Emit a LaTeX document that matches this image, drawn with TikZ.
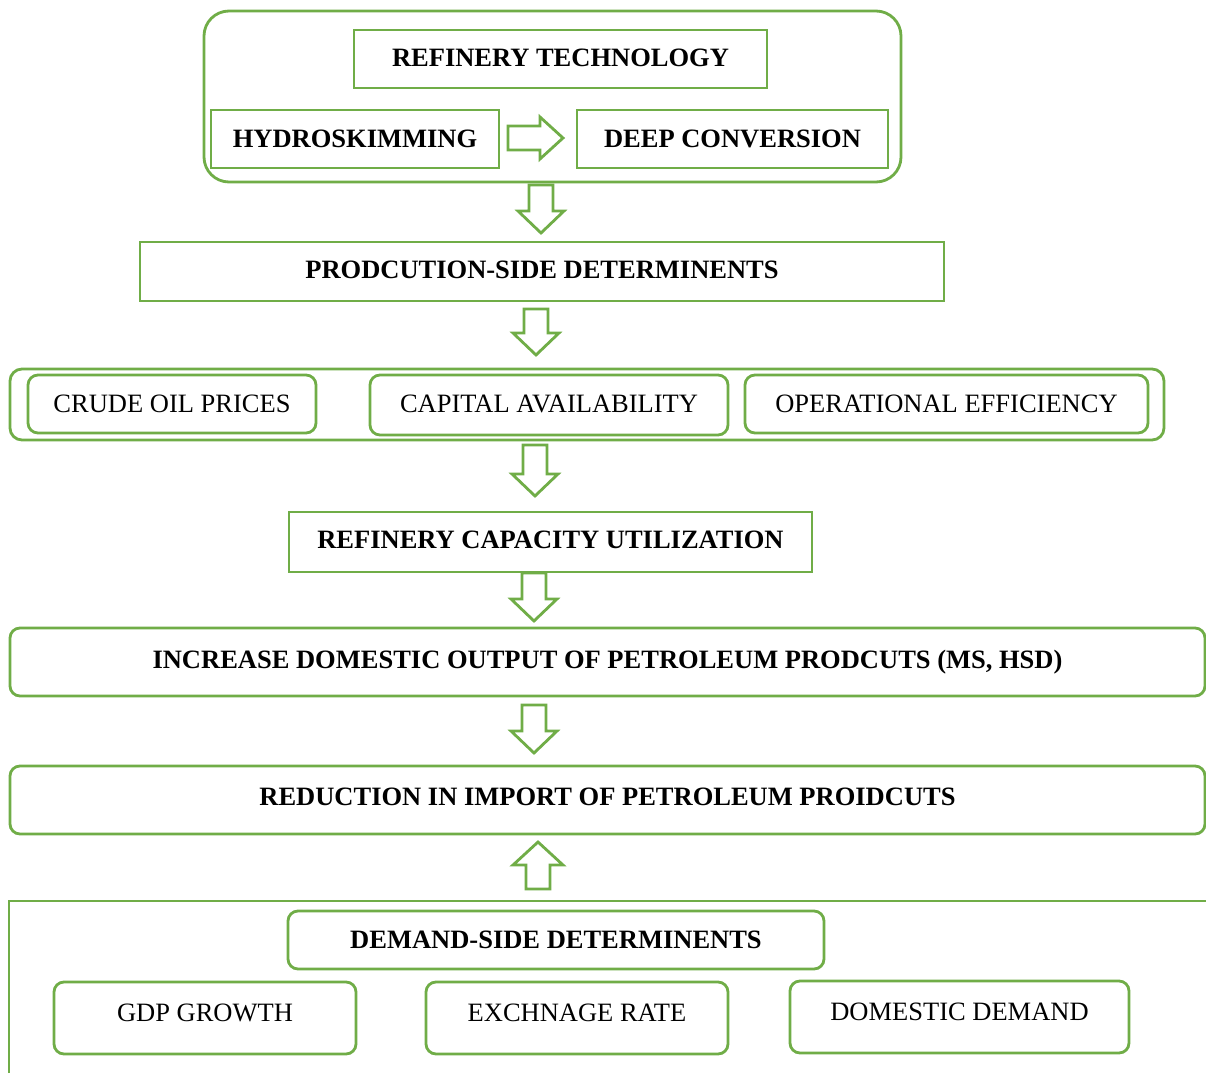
\documentclass[tikz,border=0pt]{standalone}
\usepackage{fontspec}
\setmainfont{Liberation Serif}
\definecolor{grn}{HTML}{70AD47}
\newcommand\dnarr[3]{\draw[arr] (#1-12,#2) -- (#1+12,#2) -- (#1+12,#3-22) -- (#1+23,#3-22) -- (#1,#3) -- (#1-23,#3-22) -- (#1-12,#3-22) -- cycle;}
\begin{document}
\begin{tikzpicture}[x=1pt,y=-1pt,
 box/.style={draw=grn, line width=2.8pt, fill=white, inner sep=0pt, font=\fontsize{26.5}{30}\selectfont\bfseries},
 rbox/.style={box, rounded corners=10pt},
 pbox/.style={rbox, font=\fontsize{26.5}{30}\selectfont},
 grp/.style={draw=grn, line width=2.8pt, inner sep=0pt},
 arr/.style={draw=grn, line width=2.8pt, fill=white, line join=miter},
]
\useasboundingbox[fill=white] (0,0) rectangle (1206,1073);

% top group
\node[grp, rounded corners=25pt, minimum width=697, minimum height=171] (techgrp) at (552.5,96.5) {};
\node[box, minimum width=413, minimum height=58, text height=17.5pt, text depth=2pt] (tech) at (560.5,59) {REFINERY TECHNOLOGY};
\node[box, minimum width=288, minimum height=58] (hydro) at (355,139) {HYDROSKIMMING};
\node[box, minimum width=311, minimum height=58] (deep) at (732.5,139) {DEEP CONVERSION};
\draw[arr] (508,126) -- (540,126) -- (540,117) -- (563,138) -- (540,159) -- (540,150) -- (508,150) -- cycle;

\dnarr{541}{185}{233}
\node[box, minimum width=804, minimum height=59, text height=17.5pt, text depth=3pt] (prod) at (542,271.5) {PRODCUTION-SIDE DETERMINENTS};
\dnarr{536}{309}{355}

% production factors
\node[grp, rounded corners=12pt, minimum width=1154, minimum height=71] (prodgrp) at (587,404.5) {};
\node[pbox, minimum width=288, minimum height=58] (crude) at (172,404) {CRUDE OIL PRICES};
\node[pbox, minimum width=358, minimum height=60, text height=17.5pt, text depth=3pt] (capital) at (549,405) {CAPITAL AVAILABILITY};
\node[pbox, minimum width=403, minimum height=58] (oper) at (946.5,404) {OPERATIONAL EFFICIENCY};

\dnarr{535}{445}{496}
\node[box, minimum width=523, minimum height=60, text height=17.5pt, text depth=4pt] (util) at (550.5,542) {REFINERY CAPACITY UTILIZATION};
\dnarr{534}{573}{621}
\node[rbox, minimum width=1195, minimum height=68] (output) at (607.5,662) {INCREASE DOMESTIC OUTPUT OF PETROLEUM PRODCUTS (MS, HSD)};
\dnarr{534}{705}{753}
\node[rbox, minimum width=1195, minimum height=68, text height=17.5pt, text depth=6pt] (import) at (607.5,800) {REDUCTION IN IMPORT OF PETROLEUM PROIDCUTS};
\draw[arr] (538,842) -- (563,865) -- (550,865) -- (550,889) -- (526,889) -- (526,865) -- (513,865) -- cycle;

% demand side group
\coordinate (dgbl) at (9,1073);
\coordinate (dgtl) at (9,901);
\coordinate (dgtr) at (1206,901);
\draw[grn, line width=2.8pt] (dgbl) -- (dgtl) -- (dgtr);
\node[rbox, minimum width=536, minimum height=58] (demand) at (556,940) {DEMAND-SIDE DETERMINENTS};
\node[pbox, minimum width=302, minimum height=72, text height=17.5pt, text depth=10pt] (gdp) at (205,1018) {GDP GROWTH};
\node[pbox, minimum width=302, minimum height=72, text height=17.5pt, text depth=10pt] (exch) at (577,1018) {EXCHNAGE RATE};
\node[pbox, minimum width=339, minimum height=72, text height=17.5pt, text depth=10pt] (dom) at (959.5,1017) {DOMESTIC DEMAND};
\end{tikzpicture}
\end{document}
